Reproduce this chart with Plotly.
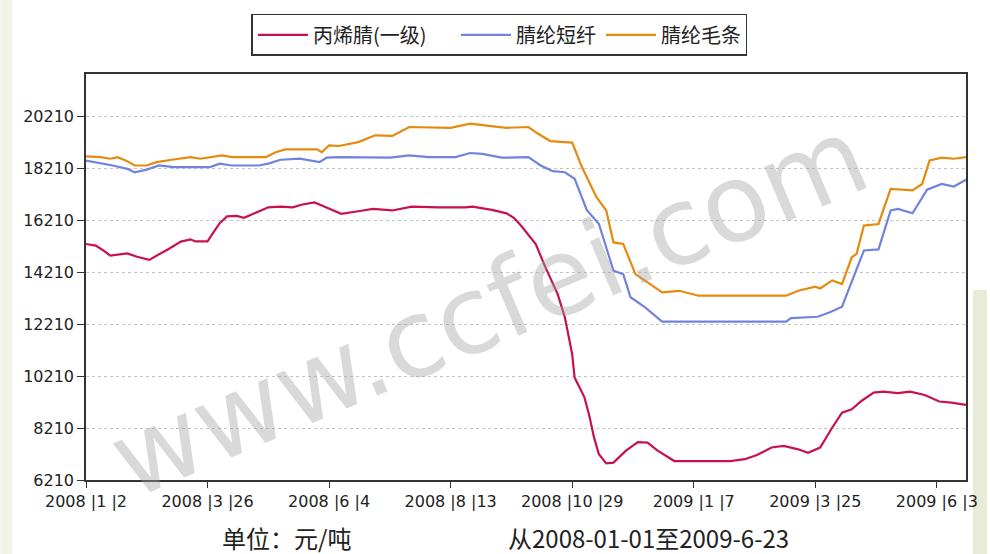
import plotly.graph_objects as go

# ---------------- data (trading-day index, yuan/ton) ----------------
tick_idx = [0, 50, 100, 150, 200, 250, 300, 350]
tick_text = ["2008 |1 |2", "2008 |3 |26", "2008 |6 |4", "2008 |8 |13",
             "2008 |10 |29", "2009 |1 |7", "2009 |3 |25", "2009 |6 |3"]
y_ticks = [6210, 8210, 10210, 12210, 14210, 16210, 18210, 20210]
y_tick_text = ["6210", "8210", "10210", "12210", "14210", "16210", "18210", "20210"]

acn_x = [0, 4, 7, 10, 17, 21, 26, 30, 34, 39, 43, 45, 50, 52, 55, 58, 62, 65, 70, 75,
         80, 85, 89, 94, 97, 103, 105, 112, 118, 126, 134, 145, 156, 159, 167, 173, 176,
         179, 185, 189, 194, 197, 199, 200, 201, 203, 205, 207, 209, 211, 214, 217, 222,
         227, 231, 235, 242, 265, 271, 276, 282, 287, 293, 297, 302, 307, 311, 315, 319,
         324, 328, 334, 339, 345, 351, 356, 362]
acn_y = [15290, 15230, 15050, 14840, 14930, 14800, 14680, 14880, 15100, 15380, 15470,
         15390, 15390, 15680, 16090, 16350, 16370, 16300, 16510, 16700, 16730, 16700,
         16810, 16890, 16770, 16550, 16450, 16550, 16640, 16580, 16730, 16700, 16700,
         16730, 16600, 16470, 16300, 15990, 15290, 14390, 13370, 12460, 11570, 11050,
         10150, 9800, 9400, 8700, 7840, 7200, 6850, 6880, 7330, 7670, 7650, 7350, 6940,
         6940, 7010, 7170, 7460, 7520, 7390, 7260, 7460, 8230, 8800, 8930, 9250, 9570,
         9610, 9550, 9610, 9480, 9230, 9190, 9100]

staple_x = [0, 6, 11, 17, 20, 25, 30, 36, 51, 55, 60, 71, 75, 80, 88, 96, 99, 104, 125,
            133, 141, 152, 158, 163, 171, 182, 187, 192, 197, 201, 206, 211, 214, 217,
            221, 224, 230, 237, 288, 290, 301, 306, 311, 316, 320, 326, 331, 334, 340,
            346, 352, 357, 362]
staple_y = [18500, 18400, 18310, 18180, 18050, 18150, 18310, 18250, 18250, 18380, 18310,
            18310, 18380, 18530, 18570, 18440, 18610, 18630, 18610, 18700, 18630, 18630,
            18790, 18760, 18610, 18630, 18310, 18090, 18050, 17800, 16600, 16060, 15160,
            14260, 14130, 13240, 12850, 12300, 12300, 12440, 12490, 12660, 12880, 14100,
            15040, 15080, 16580, 16640, 16470, 17380, 17600, 17500, 17760]

tops_x = [0, 6, 10, 13, 17, 20, 25, 29, 36, 43, 47, 56, 60, 74, 78, 82, 95, 97, 100, 104,
          112, 119, 126, 133, 150, 158, 164, 173, 182, 186, 191, 200, 204, 210, 214, 217,
          221, 226, 231, 237, 244, 252, 288, 293, 300, 302, 307, 311, 315, 317, 320, 326,
          331, 340, 344, 347, 352, 357, 362]
tops_y = [18660, 18630, 18570, 18630, 18470, 18310, 18310, 18440, 18540, 18630, 18570,
          18700, 18630, 18630, 18820, 18930, 18930, 18820, 19080, 19060, 19210, 19470,
          19450, 19790, 19760, 19920, 19850, 19760, 19790, 19530, 19250, 19190, 18250,
          17090, 16580, 15350, 15290, 14130, 13810, 13430, 13490, 13300, 13300, 13490,
          13650, 13580, 13890, 13750, 14780, 14910, 16000, 16060, 17410, 17350, 17600,
          18500, 18610, 18570, 18630]

series = [
    ("丙烯腈(一级)\u3000\u00a0", acn_x, acn_y, "#c8124a"),
    ("腈纶短纤", staple_x, staple_y, "#7183dd"),
    ("腈纶毛条", tops_x, tops_y, "#e68a0f"),
]

fig = go.Figure()
for name, xs, ys, col in series:
    fig.add_trace(go.Scatter(x=xs, y=ys, mode="lines", name=name,
                             line=dict(color=col, width=2.2)))

tick_font = dict(family="DejaVu Sans", size=16, color="#222222")
fig.update_layout(
    width=990, height=554,
    margin=dict(l=86, r=21, t=74, b=74),
    paper_bgcolor="#ffffff", plot_bgcolor="#ffffff",
    showlegend=True,
    legend=dict(orientation="h", xref="container", yref="container",
                x=0.5045, y=0.975, xanchor="center", yanchor="top",
                itemwidth=50,
                bordercolor="#333333", borderwidth=1.5, bgcolor="#ffffff",
                font=dict(family="Noto Sans CJK SC", size=20, color="#222222")),
    xaxis=dict(range=[0, 362], tickvals=tick_idx, ticktext=tick_text,
               showgrid=False, zeroline=False, showline=True, linecolor="#333333",
               linewidth=1.5, mirror=True, ticks="outside", ticklen=6,
               tickcolor="#333333", tickfont=tick_font),
    yaxis=dict(range=[6210, 21830], tickvals=y_ticks, ticktext=y_tick_text,
               showgrid=True, gridcolor="#c4c4c4", griddash="dot", gridwidth=1,
               zeroline=False, showline=True, linecolor="#333333", linewidth=1.5,
               mirror=True, ticks="outside", ticklen=7, tickcolor="#333333",
               tickfont=tick_font),
)

# watermark
fig.add_annotation(text="www.ccfei.com", xref="paper", yref="paper", x=0.4575, y=0.425,
                   showarrow=False, textangle=-23,
                   font=dict(family="DejaVu Sans", size=108, color="rgba(160,160,160,0.4)"))

# footer texts
fig.add_annotation(text="单位：元/吨", xref="paper", yref="paper", x=(287 - 86) / 883,
                   y=-(537 - 480) / 406, showarrow=False, xanchor="center", yanchor="middle",
                   font=dict(family="Noto Sans CJK SC", size=24, color="#222222"))
fig.add_annotation(text="从2008-01-01至2009-6-23", xref="paper", yref="paper",
                   x=(650 - 86) / 883, y=-(537 - 480) / 406, showarrow=False,
                   xanchor="center", yanchor="middle",
                   font=dict(family="Noto Sans CJK SC", size=24, color="#222222"))

# faint slide background tints at page edges
fig.add_shape(type="rect", xref="paper", yref="paper", x0=-86 / 883, x1=-74 / 883,
              y0=-74 / 406, y1=480 / 406, fillcolor="#f1f3e6", line_width=0, layer="below")
fig.add_shape(type="rect", xref="paper", yref="paper", x0=(976 - 86) / 883, x1=(990 - 86) / 883,
              y0=-74 / 406, y1=(480 - 290) / 406, fillcolor="#e8ebd6", line_width=0, layer="below")

fig.write_html("out.html", config={"displayModeBar": False},
               post_script="document.body.style.margin='0';document.body.style.overflow='hidden';")
